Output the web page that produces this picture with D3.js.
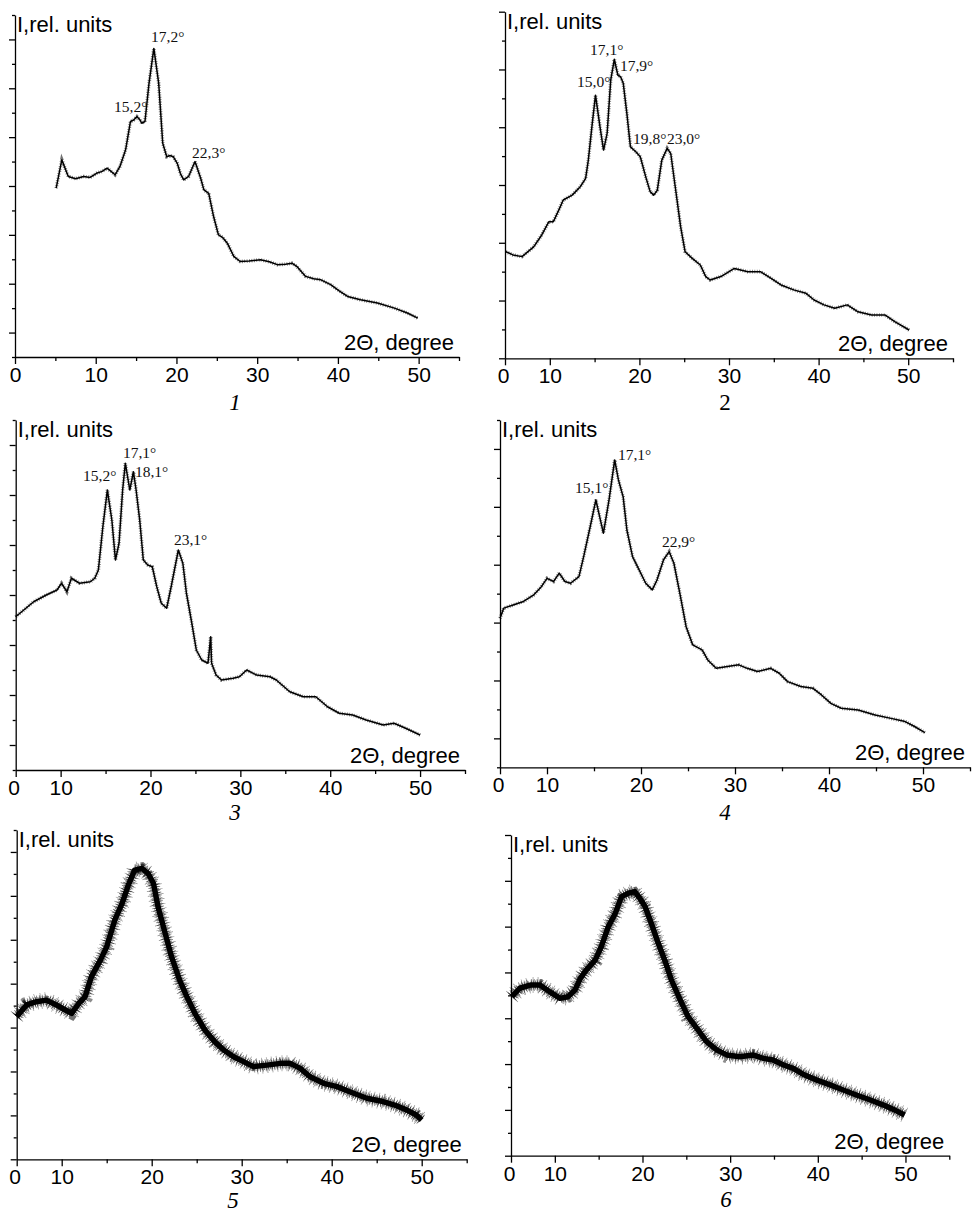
<!DOCTYPE html>
<meta charset="utf-8">
<head>
<style>
  * { margin: 0; padding: 0; }
  body { background: #fff; width: 973px; height: 1212px; overflow: hidden; }
  svg { display: block; }
  .ax path, .ax line { stroke: #000; stroke-width: 1.3px; }
  .ax text { font-family: "Liberation Sans", Arial, sans-serif; font-size: 21px; fill: #000; }
  .lbl { font-family: "Liberation Sans", Arial, sans-serif; font-size: 22px; fill: #000; }
  .peak { font-family: "Liberation Serif", "Times New Roman", serif; font-size: 15.5px; fill: #111; }
  .cap { font-family: "Liberation Serif", "Times New Roman", serif; font-size: 23px; fill: #000; }
</style>
</head>
<body>
<svg id="fig" width="973" height="1212"></svg>
<script src="https://cdn.jsdelivr.net/npm/d3@7/dist/d3.min.js"></script>
<script>
// diffractograms, [2theta (deg), intensity (rel. units)]
var curve1 = [[5.1,6.91],[5.8,8.07],[6.6,7.39],[7.5,7.3],[8.5,7.39],[9.3,7.35],[10.1,7.52],[10.8,7.6],[11.4,7.73],[11.9,7.6],[12.4,7.46],[13.0,7.8],[13.7,8.48],[14.3,9.64],[14.7,9.7],[15.1,9.84],[15.5,9.7],[15.7,9.57],[16.1,9.64],[16.6,11.2],[17.2,12.63],[17.8,11.2],[18.3,8.75],[18.8,8.2],[19.2,8.25],[19.6,8.2],[20.1,7.93],[20.5,7.5],[20.9,7.25],[21.5,7.39],[22.3,8.0],[23.0,7.32],[23.4,6.84],[24.0,6.7],[24.6,5.75],[25.2,5.0],[25.7,4.9],[26.3,4.66],[27.1,4.12],[27.9,3.91],[29.0,3.93],[30.4,3.98],[31.5,3.9],[32.5,3.78],[33.5,3.8],[34.3,3.84],[34.9,3.71],[36.0,3.30],[37.0,3.2],[37.9,3.16],[39.1,2.96],[40.2,2.7],[41.2,2.48],[42.8,2.34],[44.9,2.21],[47.0,2.0],[48.6,1.8],[49.9,1.59]];
var curve2 = [[5.1,3.69],[5.9,3.58],[6.9,3.52],[8.2,3.86],[9.1,4.27],[9.9,4.73],[10.4,4.73],[11.0,5.13],[11.5,5.48],[12.5,5.65],[13.4,5.94],[14.0,6.23],[14.3,6.86],[14.7,8.02],[15.1,9.11],[15.6,8.02],[16.0,7.21],[16.4,7.79],[16.8,9.63],[17.2,10.35],[17.6,9.8],[17.9,9.75],[18.2,9.52],[18.6,8.48],[19.0,7.32],[19.6,7.15],[20.1,6.98],[20.7,6.29],[21.2,5.77],[21.6,5.65],[22.0,5.82],[22.5,6.86],[23.1,7.27],[23.5,7.09],[24.0,5.94],[24.6,4.56],[25.1,3.69],[25.9,3.46],[26.8,3.23],[27.4,2.83],[27.9,2.71],[29.1,2.83],[30.6,3.11],[32.1,3.0],[33.5,3.0],[34.7,2.77],[35.8,2.54],[37.3,2.36],[38.6,2.25],[39.5,2.02],[40.6,1.85],[41.8,1.73],[43.2,1.85],[44.4,1.61],[45.9,1.5],[47.4,1.5],[48.5,1.27],[50.1,0.98]];
var curve3 = [[5.0,6.13],[5.9,6.4],[7.0,6.73],[8.4,7.0],[9.6,7.2],[10.1,7.47],[10.7,7.13],[11.2,7.67],[12.1,7.47],[13.3,7.53],[13.8,7.67],[14.2,8.0],[14.7,9.73],[15.2,11.2],[15.7,10.0],[16.1,8.4],[16.5,9.07],[16.9,11.2],[17.2,12.27],[17.7,11.2],[18.1,11.93],[18.4,11.2],[18.8,10.0],[19.2,8.4],[19.7,8.2],[20.2,8.13],[20.7,7.33],[21.2,6.67],[21.8,6.47],[22.3,7.33],[23.1,8.8],[23.6,8.27],[24.0,7.07],[24.6,5.87],[25.1,4.8],[25.7,4.4],[26.4,4.27],[26.7,5.33],[26.8,4.27],[27.3,3.8],[27.9,3.6],[29.2,3.67],[29.9,3.73],[30.7,4.0],[31.8,3.8],[33.3,3.73],[34.0,3.6],[35.5,3.13],[37.0,2.93],[38.4,2.93],[39.7,2.53],[41.0,2.27],[42.5,2.2],[44.0,2.0],[45.9,1.8],[47.1,1.87],[48.4,1.67],[50.0,1.4]];
var curve4 = [[5.0,5.15],[5.4,5.5],[6.4,5.61],[7.5,5.73],[8.6,5.96],[9.4,6.24],[10.0,6.53],[10.7,6.42],[11.3,6.71],[11.9,6.42],[12.5,6.36],[13.4,6.59],[13.9,7.28],[14.6,8.32],[15.2,9.24],[15.6,8.66],[16.0,8.09],[16.6,9.24],[17.2,10.62],[17.6,9.93],[18.1,9.35],[18.5,8.2],[19.1,7.28],[19.8,6.82],[20.5,6.36],[21.2,6.13],[21.7,6.47],[22.4,7.17],[23.0,7.45],[23.5,7.05],[24.2,5.9],[24.8,4.86],[25.5,4.23],[26.5,4.06],[27.1,3.71],[28.0,3.42],[29.2,3.48],[30.4,3.54],[31.3,3.42],[32.4,3.31],[33.8,3.42],[34.7,3.25],[35.6,2.96],[37.0,2.79],[38.3,2.73],[39.2,2.5],[40.2,2.21],[41.3,2.04],[43.1,1.98],[44.9,1.81],[46.6,1.69],[48.1,1.58],[49.1,1.41],[50.2,1.2]];
var curve5 = [[5.0,6.5],[6.1,7.03],[7.2,7.18],[8.3,7.25],[9.4,7.03],[10.4,6.8],[11.1,6.65],[11.9,7.1],[12.6,7.41],[13.3,8.32],[14.3,9.07],[15.0,9.68],[15.9,10.9],[16.7,11.65],[17.4,12.49],[18.1,13.17],[18.9,13.25],[19.6,13.02],[20.2,12.56],[20.7,11.5],[21.5,10.29],[22.2,9.23],[23.1,8.16],[23.9,7.41],[24.8,6.65],[25.9,5.89],[27.0,5.36],[28.0,4.98],[29.1,4.67],[30.2,4.45],[31.3,4.22],[32.8,4.29],[34.3,4.37],[35.4,4.37],[36.5,4.14],[37.6,3.76],[39.1,3.46],[40.6,3.31],[42.0,3.08],[43.9,2.78],[45.7,2.63],[47.0,2.47],[48.3,2.25],[49.4,2.02],[50.0,1.79]];
var curve6 = [[5.1,6.94],[6.0,7.31],[7.2,7.45],[8.3,7.45],[9.4,7.16],[10.6,6.87],[11.5,6.94],[12.3,7.23],[12.9,7.74],[13.6,8.11],[14.6,8.54],[15.3,9.13],[16.1,10.0],[16.9,10.58],[17.6,11.31],[18.4,11.46],[19.1,11.53],[19.7,11.24],[20.3,10.87],[21.0,10.15],[21.8,9.27],[22.6,8.47],[23.3,7.67],[24.3,6.8],[25.2,6.07],[26.2,5.56],[27.3,4.98],[28.5,4.61],[29.6,4.4],[31.1,4.32],[32.6,4.4],[33.8,4.25],[34.9,4.18],[36.1,3.96],[37.2,3.81],[38.5,3.52],[39.9,3.3],[41.4,3.09],[42.9,2.87],[44.4,2.65],[46.0,2.43],[47.5,2.21],[48.8,1.99],[49.9,1.78]];

// peak labels: text and where the label starts (deg, rel. units)
var peaks1 = [["15,2°",12.27,10.03],["17,2°",16.85,12.9],["22,3°",21.93,8.15]];
var peaks2 = [["15,0°",13.04,9.39],["17,1°",14.49,10.49],["17,9°",17.83,9.94],["19,8°",19.29,7.42],["23,0°",23.08,7.42]];
var peaks3 = [["15,2°",12.49,11.56],["17,1°",16.94,12.48],["18,1°",18.27,11.72],["23,1°",22.61,9.0]];
var peaks4 = [["15,1°",12.98,9.49],["17,1°",17.55,10.63],["22,9°",22.23,7.6]];

var captions = ["1", "2", "3", "4", "5", "6"];

// frame of each panel on the page
var panels = [
  {data: curve1, peaks: peaks1, x0: 0, left: 15,   right: 459,   top: 15,    bottom: 357,    ymax: 14, majOdd: true,  capX: 235, capY: 410,  thick: false},
  {data: curve2, peaks: peaks2, x0: 5, left: 505,  right: 953,   top: 11.7,  bottom: 358.3,  ymax: 12, majOdd: false, capX: 725, capY: 410,  thick: false},
  {data: curve3, peaks: peaks3, x0: 5, left: 15.7, right: 465,   top: 420,   bottom: 770,    ymax: 14, majOdd: true,  capX: 235, capY: 820,  thick: false},
  {data: curve4, peaks: peaks4, x0: 5, left: 500,  right: 970,   top: 420,   bottom: 767.3,  ymax: 12, majOdd: true,  capX: 725, capY: 820,  thick: false},
  {data: curve5, peaks: [],     x0: 5, left: 16.7, right: 466.7, top: 830,   bottom: 1159.3, ymax: 15, majOdd: false, capX: 233, capY: 1208, thick: true},
  {data: curve6, peaks: [],     x0: 5, left: 511,  right: 949.3, top: 835,   bottom: 1155.7, ymax: 14, majOdd: false, capX: 726, capY: 1207, thick: true}
];

// hatch layers drawn under the trace: [width, dash pattern, opacity]
var fuzzThin = [[3.6, "0.8,1.6", 0.55]];
var fuzzThick = [[16, "0.7,4.3", 0.45], [12, "0.8,2.1", 0.55], [9, "0.9,1.2", 0.6]];

var svg = d3.select("#fig");

panels.forEach(function(p, i) {
  var x = d3.scaleLinear().domain([p.x0, 55]).range([p.left, p.right]);
  var y = d3.scaleLinear().domain([0, p.ymax]).range([p.bottom, p.top]);
  var g = svg.append("g");

  // x axis; panels 2-6 start at 5 but the figure labels that tick "0"
  var xa = d3.axisBottom(x)
    .tickValues(d3.range(p.x0, 56, 5))
    .tickSize(7).tickSizeOuter(0).tickPadding(3)
    .tickFormat(function(d) {
      if (d === p.x0) return "0";
      return d % 10 === 0 ? d : "";
    });
  var gx = g.append("g").attr("class", "ax")
    .attr("transform", "translate(0," + p.bottom + ")")
    .call(xa);
  gx.selectAll(".tick line").attr("y2", function(d) { return d % 10 === 0 || d === p.x0 ? 7 : 4; });
  gx.selectAll(".tick text").attr("dy", "0.72em")
    .attr("dx", function(d) { return d === p.x0 && p.x0 !== 0 ? -2 : 0; });

  var ya = d3.axisLeft(y)
    .tickValues(d3.range(0, p.ymax + 1))
    .tickSizeOuter(0).tickFormat("");
  var gy = g.append("g").attr("class", "ax")
    .attr("transform", "translate(" + p.left + ",0)")
    .call(ya);
  gy.selectAll(".tick line").attr("x2", function(d) {
    var major = p.majOdd ? d % 2 === 1 : d % 2 === 0;
    return major ? -6 : -3;
  });

  var line = d3.line()
    .x(function(d) { return x(d[0]); })
    .y(function(d) { return y(d[1]); });

  // hatched wide strokes give the counting-noise fuzz round the trace
  (p.thick ? fuzzThick : fuzzThin).forEach(function(f) {
    g.append("path").datum(p.data).attr("d", line)
      .attr("fill", "none").attr("stroke", "#000")
      .attr("stroke-width", f[0]).attr("stroke-dasharray", f[1])
      .attr("stroke-opacity", f[2]);
  });
  g.append("path").datum(p.data).attr("d", line)
    .attr("fill", "none").attr("stroke", "#000")
    .attr("stroke-width", p.thick ? 5.5 : 1.5).attr("stroke-linejoin", "round");

  g.selectAll("text.peak").data(p.peaks).enter().append("text")
    .attr("class", "peak")
    .attr("x", function(d) { return x(d[1]); })
    .attr("y", function(d) { return y(d[2]); })
    .text(function(d) { return d[0]; });

  g.append("text").attr("class", "lbl")
    .attr("x", p.left + 2).attr("y", p.top + 17)
    .text("I,rel. units");

  g.append("text").attr("class", "lbl")
    .attr("text-anchor", "end")
    .attr("x", p.right - 5).attr("y", p.bottom - 7)
    .text("2\u0398, degree");

  g.append("text").attr("class", "cap")
    .attr("text-anchor", "middle")
    .attr("x", p.capX).attr("y", p.capY)
    .style("font-style", i === 1 ? "normal" : "italic")
    .text(captions[i]);
});
</script>
</body>
